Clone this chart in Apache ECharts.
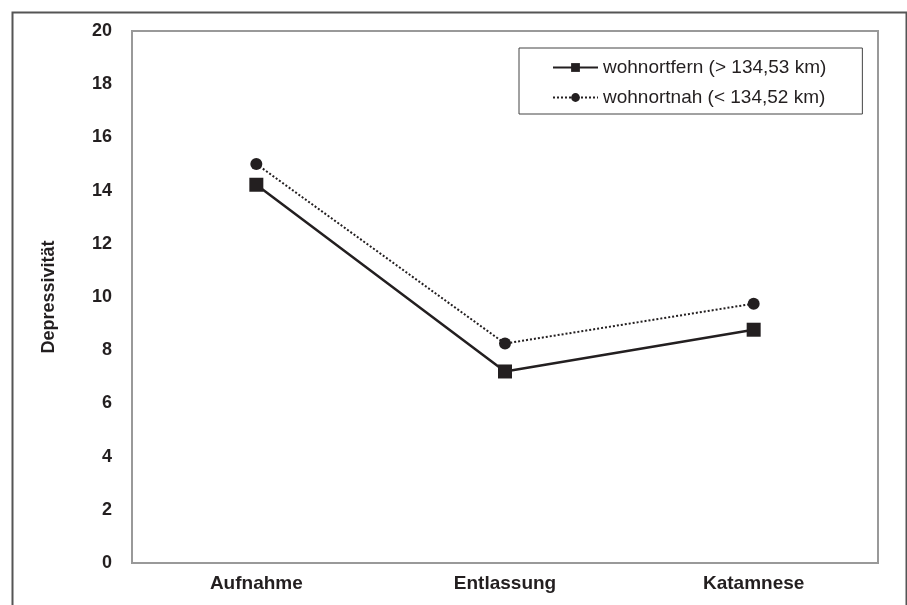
<!DOCTYPE html>
<html>
<head>
<meta charset="utf-8">
<script src="https://cdn.jsdelivr.net/npm/echarts@6/dist/echarts.min.js"></script>
<style>
  html, body { margin: 0; padding: 0; background: #fff; }
  #chart { width: 907px; height: 605px; }
</style>
</head>
<body>
<div id="chart"></div>
<script>
var categories = ['Aufnahme', 'Entlassung', 'Katamnese'];
var fernName = 'wohnortfern (> 134,53 km)';
var nahName = 'wohnortnah (< 134,52 km)';
var fernValues = [14.22, 7.2, 8.77];
var nahValues = [15.0, 8.25, 9.75];
var yTicks = [0, 2, 4, 6, 8, 10, 12, 14, 16, 18, 20];

var font = 'Liberation Sans, Arial, sans-serif';
var ink = '#231f20';

var chart = echarts.init(document.getElementById('chart'));

var options = {
    animation: false,
    backgroundColor: '#fff',
    graphic: [{
        type: 'rect',
        left: 10,
        top: 10,
        shape: { width: 894, height: 640 },
        style: { fill: 'none', stroke: '#555', lineWidth: 2 },
        silent: true
    }],
    grid: {
        left: 132,
        top: 31,
        right: 29,
        bottom: 42,
        show: true,
        borderColor: '#999',
        borderWidth: 2
    },
    legend: {
        orient: 'vertical',
        left: 519,
        top: 48,
        padding: [10, 36, 7, 33],
        itemWidth: 45,
        itemHeight: 11,
        itemGap: 11,
        borderColor: '#444',
        borderWidth: 1,
        textStyle: { fontFamily: font, fontSize: 19, color: ink },
        data: [fernName, nahName]
    },
    xAxis: {
        type: 'category',
        data: categories,
        axisLine: { lineStyle: { color: '#999', width: 2 } },
        axisTick: { show: false },
        axisLabel: {
            margin: 11,
            fontFamily: font,
            fontSize: 19,
            fontWeight: 'bold',
            color: ink
        }
    },
    yAxis: {
        type: 'value',
        min: yTicks[0],
        max: yTicks[yTicks.length - 1],
        interval: 2,
        name: 'Depressivität',
        nameLocation: 'middle',
        nameRotate: 90,
        nameGap: 74,
        nameTextStyle: {
            fontFamily: font,
            fontSize: 18,
            fontWeight: 'bold',
            color: ink
        },
        splitLine: { show: false },
        axisLine: { show: true, lineStyle: { color: '#999', width: 2 } },
        axisTick: { show: false },
        axisLabel: {
            margin: 20,
            fontFamily: font,
            fontSize: 18,
            fontWeight: 'bold',
            color: ink
        }
    },
    series: [{
        name: fernName,
        type: 'line',
        data: fernValues,
        symbol: 'rect',
        symbolSize: 14,
        itemStyle: { color: ink },
        lineStyle: { color: ink, width: 2.5, type: 'solid' }
    }, {
        name: nahName,
        type: 'line',
        data: nahValues,
        symbol: 'circle',
        symbolSize: 12,
        itemStyle: { color: ink },
        lineStyle: { color: ink, width: 2, type: 'dotted' }
    }]
};

chart.setOption(options);
</script>
</body>
</html>
